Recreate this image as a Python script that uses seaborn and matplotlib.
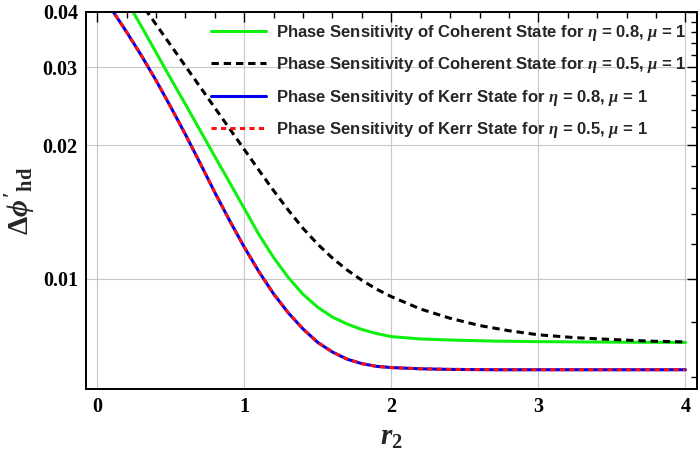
import matplotlib
matplotlib.use("Agg")
import matplotlib.pyplot as plt
import seaborn as sns
from matplotlib.ticker import FixedLocator, FixedFormatter, NullFormatter

# r2 values and curve values
r2_kerr = [0.0, 0.1, 0.2, 0.3, 0.4, 0.5, 0.6, 0.7, 0.8, 0.9, 1.0, 1.1, 1.2, 1.3,
           1.4, 1.5, 1.6, 1.7, 1.8, 1.9, 2.0, 2.2, 2.4, 2.7, 3.0, 4.0]
kerr_eta08 = [0.0452, 0.04046, 0.03606, 0.03192, 0.02805, 0.02443, 0.02118, 0.01824,
              0.01567, 0.01355, 0.0118, 0.01038, 0.00925, 0.00838, 0.00771, 0.00719,
              0.00684, 0.00659, 0.00644, 0.00635, 0.00631, 0.00627, 0.00625, 0.00624,
              0.00624, 0.00624]
kerr_eta05 = [0.0452, 0.04046, 0.03606, 0.03192, 0.02805, 0.02443, 0.02118, 0.01824,
              0.01567, 0.01355, 0.0118, 0.01038, 0.00925, 0.00838, 0.00771, 0.00719,
              0.00684, 0.00659, 0.00644, 0.00635, 0.00631, 0.00627, 0.00625, 0.00624,
              0.00624, 0.00624]

r2_coh = [0.0, 0.1, 0.2, 0.3, 0.4, 0.5, 0.6, 0.7, 0.8, 0.9, 1.0, 1.1, 1.2, 1.3,
          1.4, 1.5, 1.6, 1.7, 1.8, 1.9, 2.0, 2.2, 2.4, 2.7, 3.0, 3.5, 4.0]
coh_eta08 = [0.0557, 0.04864, 0.04246, 0.03715, 0.03243, 0.02831, 0.02477, 0.02163,
             0.01888, 0.01652, 0.01442, 0.01259, 0.01117, 0.01007, 0.00923, 0.00863,
             0.0082, 0.00791, 0.00769, 0.00753, 0.00741, 0.00732, 0.00728, 0.00724,
             0.00722, 0.0072, 0.00719]

r2_coh05 = [0.0, 0.1, 0.2, 0.3, 0.4, 0.5, 0.6, 0.7, 0.8, 0.9, 1.0, 1.1, 1.2, 1.3,
            1.4, 1.5, 1.6, 1.7, 1.8, 1.9, 2.0, 2.2, 2.4, 2.6, 2.8, 3.0, 3.25, 3.5,
            3.75, 4.0]
coh_eta05 = [0.0578, 0.05188, 0.04656, 0.04178, 0.0375, 0.03365, 0.0302, 0.0271,
             0.02432, 0.02183, 0.01959, 0.01758, 0.01581, 0.01429, 0.013, 0.01197,
             0.01114, 0.01047, 0.00993, 0.00948, 0.00912, 0.00855, 0.00815, 0.00785,
             0.00764, 0.00748, 0.00737, 0.0073, 0.00724, 0.00721]

y_major = [0.01, 0.02, 0.03, 0.04]
y_major_labels = ["0.01", "0.02", "0.03", "0.04"]
y_minor = [0.006, 0.008, 0.012, 0.014, 0.016, 0.018, 0.022, 0.024, 0.026, 0.028,
           0.032, 0.034, 0.036, 0.038]
x_major = [0, 1, 2, 3, 4]
x_minor = [0.2, 0.4, 0.6, 0.8, 1.2, 1.4, 1.6, 1.8, 2.2, 2.4, 2.6, 2.8,
           3.2, 3.4, 3.6, 3.8]

sns.set_style("white")
plt.rcParams["font.family"] = ["Liberation Sans", "DejaVu Sans"]
plt.rcParams["mathtext.fontset"] = "custom"
plt.rcParams["mathtext.rm"] = "Liberation Serif:bold"
plt.rcParams["mathtext.it"] = "Liberation Serif:italic:bold"
plt.rcParams["mathtext.bf"] = "Liberation Serif:bold"

fig = plt.figure(figsize=(7, 4.58), dpi=100)
ax = fig.add_axes([0.123, 0.151, 0.873, 0.823])

ax.grid(True, which="major", color="#c8c8c8", linewidth=0.8)
ax.set_axisbelow(True)

sns.lineplot(x=r2_coh, y=coh_eta08, ax=ax, color="#10f010", linewidth=2.2,
             label=r"Phase Sensitivity of Coherent State for $\eta$ = 0.8, $\mu$ = 1")
sns.lineplot(x=r2_coh05, y=coh_eta05, ax=ax, color="black", linewidth=2.2,
             linestyle=(0, (2.4, 1.6)),
             label=r"Phase Sensitivity of Coherent State for $\eta$ = 0.5, $\mu$ = 1")
sns.lineplot(x=r2_kerr, y=kerr_eta08, ax=ax, color="#0000ee", linewidth=2.2,
             label=r"Phase Sensitivity of Kerr State for $\eta$ = 0.8, $\mu$ = 1")
sns.lineplot(x=r2_kerr, y=kerr_eta05, ax=ax, color="#ff1010", linewidth=2.2,
             linestyle=(0, (1.7, 1.4)),
             label=r"Phase Sensitivity of Kerr State for $\eta$ = 0.5, $\mu$ = 1")

ax.set_yscale("log")
ax.set_xlim(-0.075, 4.08)
ax.set_ylim(0.00565, 0.04)

ax.yaxis.set_major_locator(FixedLocator(y_major))
ax.yaxis.set_major_formatter(FixedFormatter(y_major_labels))
ax.yaxis.set_minor_locator(FixedLocator(y_minor))
ax.yaxis.set_minor_formatter(NullFormatter())
ax.xaxis.set_major_locator(FixedLocator(x_major))
ax.xaxis.set_minor_locator(FixedLocator(x_minor))

ax.tick_params(which="both", direction="in", top=True, right=True, color="black")
ax.tick_params(which="major", length=7, width=1.0, pad=6)
ax.tick_params(which="minor", length=4, width=1.0)
for lbl in ax.get_xticklabels() + ax.get_yticklabels():
    lbl.set_fontfamily("Liberation Serif")
    lbl.set_fontweight("bold")
    lbl.set_fontsize(14.5)
    lbl.set_color("black")

for sp in ax.spines.values():
    sp.set_color("black")
    sp.set_linewidth(1.4)

ax.set_xlabel(r"$r_2$", fontsize=21, labelpad=4)
ax.set_ylabel(r"$\Delta\phi^{\prime}{}_{\mathrm{hd}}$", fontsize=21, labelpad=3)

ax.legend(loc="upper right", frameon=False, handlelength=3.3, handletextpad=0.6,
          labelspacing=0.75, borderaxespad=0.25,
          prop={"family": "Liberation Sans", "weight": "bold", "size": 12})

fig.savefig("out.png", dpi=100)
